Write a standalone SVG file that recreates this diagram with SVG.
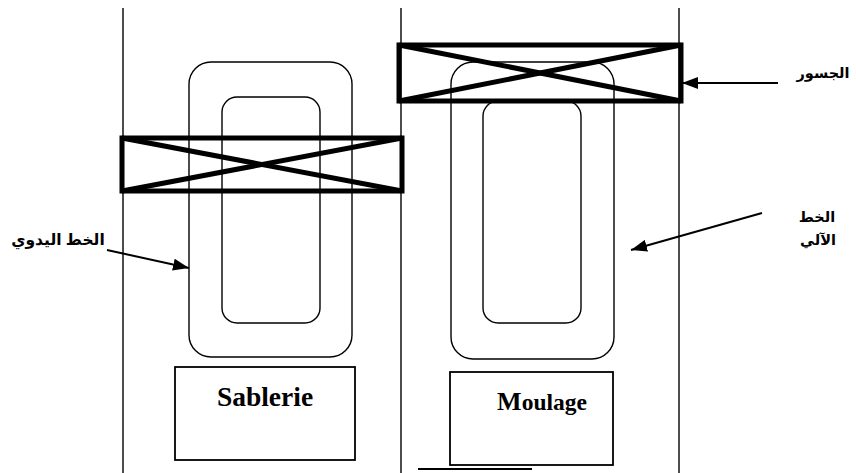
<svg xmlns="http://www.w3.org/2000/svg" width="856" height="473" viewBox="0 0 856 473">
  <style>
    .wall { stroke: #000; stroke-width: 1.4; fill: none; }
    .loop { stroke: #000; stroke-width: 1.4; fill: none; }
    .bridge { stroke: #000; stroke-width: 5; fill: none; }
    .box { stroke: #000; stroke-width: 1.8; fill: #fff; }
    .lbl { font-family: "Liberation Serif", "Times New Roman", serif; font-weight: bold; fill: #000; }
    .ar { font-family: "Liberation Sans", Arial, "DejaVu Sans", sans-serif; font-weight: bold; font-size: 14.5px; fill: #000; }
    .conn { stroke: #000; stroke-width: 2; fill: none; marker-end: url(#head); }
  </style>
  <defs>
    <marker id="head" markerWidth="16" markerHeight="12" refX="16" refY="6" orient="auto" markerUnits="userSpaceOnUse">
      <path d="M0,0 L16,6 L0,12 Z" fill="#000"/>
    </marker>
  </defs>
  <rect width="856" height="473" fill="#fff"/>

  <!-- hall walls -->
  <g id="walls">
    <line class="wall" x1="123" y1="8" x2="123" y2="473"/>
    <line class="wall" x1="401" y1="8" x2="401" y2="473"/>
    <line class="wall" x1="679" y1="8" x2="679" y2="473"/>
    <line x1="418" y1="469" x2="532" y2="469" stroke="#000" stroke-width="2"/>
  </g>

  <!-- manual line (left) -->
  <g id="manual-line">
    <rect class="loop" x="189" y="62" width="163" height="295" rx="22"/>
    <rect class="loop" x="222" y="97" width="98" height="226" rx="15"/>
  </g>

  <!-- automatic line (right) -->
  <g id="auto-line">
    <rect class="loop" x="451" y="62" width="163" height="297" rx="22"/>
    <rect class="loop" x="483" y="101" width="98" height="222" rx="15"/>
  </g>

  <!-- overhead bridges -->
  <g id="bridge-left">
    <rect class="bridge" x="122" y="138" width="280" height="53"/>
    <line class="bridge" x1="122" y1="138" x2="402" y2="191"/>
    <line class="bridge" x1="122" y1="191" x2="402" y2="138"/>
  </g>
  <g id="bridge-right">
    <rect class="bridge" x="399" y="45" width="282" height="56"/>
    <line class="bridge" x1="399" y1="45" x2="681" y2="101"/>
    <line class="bridge" x1="399" y1="101" x2="681" y2="45"/>
  </g>

  <!-- work stations -->
  <g id="sablerie">
    <rect class="box" x="175" y="367" width="180" height="93"/>
    <text class="lbl" x="265" y="406" font-size="27.5" text-anchor="middle">Sablerie</text>
  </g>
  <g id="moulage">
    <rect class="box" x="450" y="372" width="163" height="93"/>
    <text class="lbl" x="542" y="410" text-anchor="middle"><tspan font-size="26">M</tspan><tspan font-size="23.5">oulage</tspan></text>
  </g>

  <!-- labels -->
  <g id="label-manual">
    <text class="ar" x="58" y="245" font-size="15.5" style="font-size:15.5px" text-anchor="middle" direction="rtl">الخط اليدوي</text>
  </g>
  <g id="label-auto">
    <text class="ar" x="817" y="222" text-anchor="middle" direction="rtl">الخط</text>
    <text class="ar" x="818" y="245" text-anchor="middle" direction="rtl">الآلي</text>
  </g>
  <g id="label-bridges">
    <text class="ar" x="823" y="78" text-anchor="middle" direction="rtl">الجسور</text>
  </g>

  <!-- pointer arrows -->
  <g id="connectors">
    <line class="conn" x1="107" y1="250" x2="189" y2="268"/>
    <line class="conn" x1="778" y1="83" x2="682" y2="83"/>
    <line class="conn" x1="762" y1="213" x2="631" y2="250"/>
  </g>
</svg>
